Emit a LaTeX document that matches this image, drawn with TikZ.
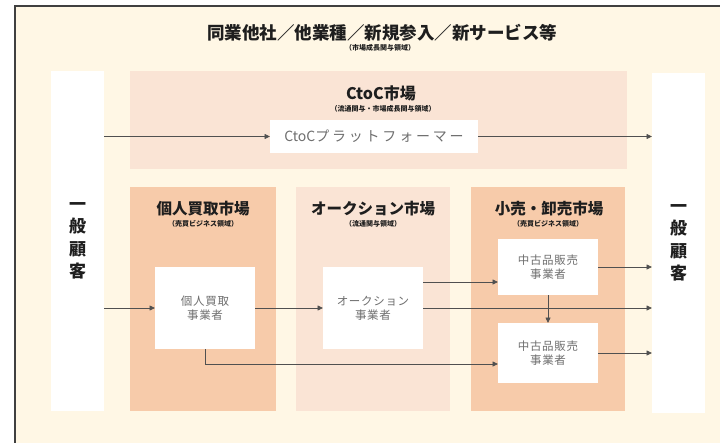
\documentclass[tikz,border=0pt]{standalone}
\usepackage{fontspec}
\setmainfont{Noto Sans CJK JP}
\usetikzlibrary{arrows.meta}
\usetikzlibrary{positioning}
\definecolor{cream}{HTML}{FFF7E5}
\definecolor{peachdark}{HTML}{F7CBAA}
\definecolor{peachlight}{HTML}{FAE4D5}
\definecolor{linegray}{HTML}{505050}
\definecolor{textgray}{HTML}{6E6E6E}
\definecolor{titleblack}{HTML}{1E1E1E}

\begin{document}
\begin{tikzpicture}[x=1pt, y=-1pt,
    custcol/.style={fill=white, inner sep=0pt, outer sep=0pt, minimum width=53pt, minimum height=340pt,
      align=center, text=titleblack, font=\fontsize{17}{22.5}\selectfont\bfseries},
    actor/.style={fill=white, inner sep=0pt, outer sep=0pt, minimum width=100pt, align=center,
      text=textgray, font=\fontsize{11.5}{14}\selectfont\addfontfeature{LetterSpace=6}},
    headline/.style={text=titleblack, inner sep=0pt, font=\fontsize{15.5}{18}\selectfont\bfseries},
    subline/.style={text=titleblack, inner sep=0pt, font=\fontsize{7}{8}\selectfont\bfseries},
    flow/.style={draw=linegray, line width=0.8pt, -{Triangle[length=5.5pt,width=5pt]}},
    plain/.style={draw=linegray, line width=0.8pt}]
  \useasboundingbox (0,0) rectangle (720,442);
  \clip (0,0) rectangle (720,442);

  % Frame
  \fill[white] (0,0) rectangle (720,442);
  \draw[fill=cream, draw=black!75, line width=1.3pt] (15,6) rectangle (740,460);

  % Market areas
  \fill[peachlight] (130,71) rectangle (627,169);
  \fill[peachdark] (130,187) rectangle (276,411);
  \fill[peachlight] (296,187) rectangle (450,411);
  \fill[peachdark] (471,187) rectangle (625,411);

  % Titles
  \node[headline, font=\fontsize{17.5}{20}\selectfont\bfseries] (toptitle) at (382,33) {同業他社／他業種／新規参入／新サービス等};
  \node[subline] (topsub) at (380,48) {（市場成長関与領域）};
  \node[headline, font=\fontsize{16}{18}\selectfont\bfseries] (ctoctitle) at (381,93) {CtoC市場};
  \node[subline] (ctocsub) at (383,109) {（流通関与・市場成長関与領域）};
  \node[headline] (buytitle) at (203,209) {個人買取市場};
  \node[subline] (buysub) at (203,224) {（売買ビジネス領域）};
  \node[headline] (aucttitle) at (373,209) {オークション市場};
  \node[subline] (auctsub) at (373,224) {（流通関与領域）};
  \node[headline] (retailtitle) at (549,209) {小売・卸売市場};
  \node[subline] (retailsub) at (548,224) {（売買ビジネス領域）};

  % Customers
  \node[custcol] (custL) at (77.5,241) {一\\般\\顧\\客};
  \node[custcol] (custR) at (678.5,243) {一\\般\\顧\\客};

  % Players
  \node[actor, minimum width=208pt, minimum height=33pt,
    font=\fontsize{14}{15}\selectfont] (platform) at (374,136.5)
    {CtoC{\addfontfeature{LetterSpace=20}プラットフォーマー}};
  \node[actor, minimum height=82pt] (buyer) at (205,308) {個人買取\\事業者};
  \node[actor, minimum height=82pt] (auction) at (373,308) {オークション\\事業者};
  \node[actor, minimum height=56pt] (used1) at (548,267) {中古品販売\\事業者};
  \node[actor, minimum height=60pt] (used2) at (548,353) {中古品販売\\事業者};

  % Flows
  \draw[flow] (custL.east |- platform.west) -- (platform.west);
  \draw[flow] (platform.east) -- (platform.east -| custR.west);
  \draw[flow] (custL.east |- buyer.west) -- (buyer.west);
  \draw[flow] (buyer.east) -- (auction.west);
  \draw[flow] (auction.east) -- (auction.east -| custR.west);
  \draw[flow] ([yshift=26pt]auction.east) -- ([yshift=26pt]auction.east -| used1.west);
  \draw[flow] (used1.east) -- (used1.east -| custR.west);
  \draw[flow] (used1.south) -- (used2.north);
  \draw[flow] (used2.east) -- (used2.east -| custR.west);
  \draw[flow] (buyer.south) |- ([yshift=-11pt]used2.west);
\end{tikzpicture}
\end{document}
